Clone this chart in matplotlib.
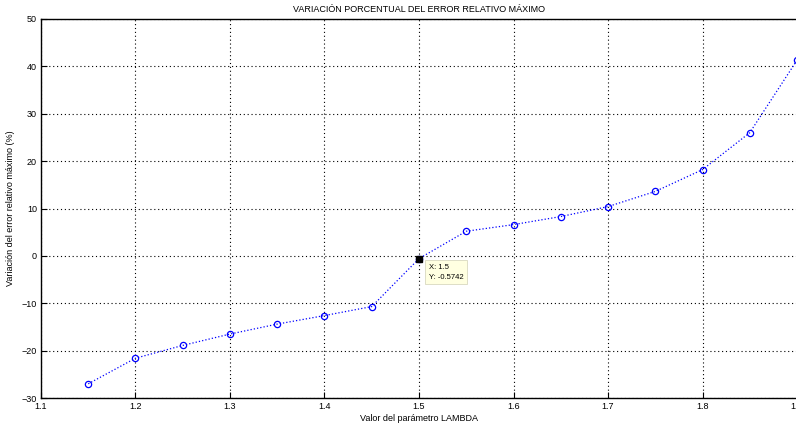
import matplotlib
matplotlib.use("Agg")
import matplotlib.pyplot as plt

# lambda values and relative error variation (%)
lambdas = [1.15, 1.2, 1.25, 1.3, 1.35, 1.4, 1.45, 1.5, 1.55, 1.6,
           1.65, 1.7, 1.75, 1.8, 1.85, 1.9]
variacion = [-27.0, -21.6, -18.9, -16.5, -14.4, -12.6, -10.7, -0.5742, 5.2, 6.6,
             8.3, 10.4, 13.6, 18.2, 26.0, 41.3]
xticks = [1.1, 1.2, 1.3, 1.4, 1.5, 1.6, 1.7, 1.8, 1.9]
xtick_labels = ["1.1", "1.2", "1.3", "1.4", "1.5", "1.6", "1.7", "1.8", "1.9"]
yticks = [-30, -20, -10, 0, 10, 20, 30, 40, 50]
tip_x, tip_y = 1.5, -0.5742

plt.rcParams["font.family"] = ["Liberation Sans", "DejaVu Sans"]

fig = plt.figure(figsize=(7.96, 4.28), dpi=100)
ax = fig.add_axes([41 / 796, 30 / 428, 756 / 796, 379 / 428])

ax.plot(lambdas, variacion, linestyle=":", color="blue", linewidth=0.9,
        marker="o", markersize=4.5, markerfacecolor="none",
        markeredgecolor="blue", markeredgewidth=0.9)
ax.plot([tip_x], [tip_y], marker="s", color="black", markersize=4.5, zorder=5)

ax.annotate("X: 1.5\nY: -0.5742", xy=(tip_x, tip_y), xytext=(7, -4),
            textcoords="offset points", ha="left", va="top", fontsize=5.5,
            linespacing=1.5,
            bbox=dict(boxstyle="square,pad=0.5", facecolor="#ffffe1",
                      edgecolor="#d8d8c0", linewidth=0.6))

ax.set_xlim(1.1, 1.9)
ax.set_ylim(-30, 50)
ax.set_xticks(xticks)
ax.set_xticklabels(xtick_labels)
ax.set_yticks(yticks)
ax.grid(True, linestyle=(0, (1, 2.5)), color="black", linewidth=0.8)
ax.tick_params(direction="in", labelsize=6.5, length=4, width=0.8, pad=3)
for s in ax.spines.values():
    s.set_linewidth(1.0)

ax.set_title("VARIACIÓN PORCENTUAL DEL ERROR RELATIVO MÁXIMO", fontsize=6.5, pad=5)
ax.set_xlabel("Valor del parámetro LAMBDA", fontsize=6.5, labelpad=2)
ax.set_ylabel("Variación del error relativo máximo (%)", fontsize=6.5, labelpad=5)

fig.savefig("out.png", dpi=100)
